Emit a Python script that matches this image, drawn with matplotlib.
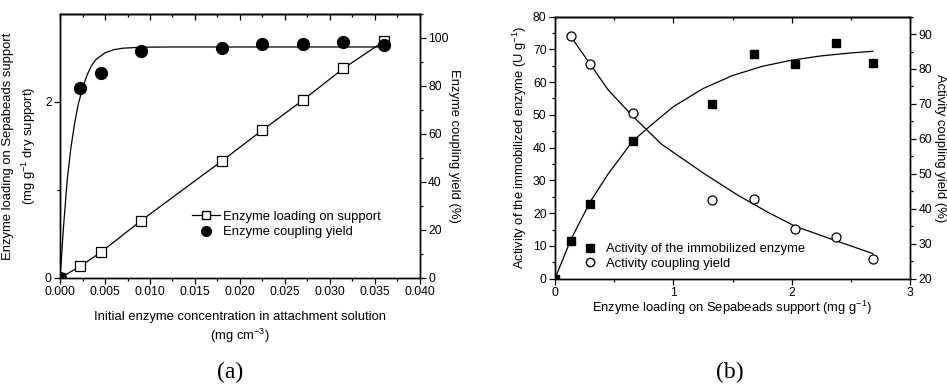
import matplotlib
matplotlib.use("Agg")
import matplotlib.pyplot as plt
from matplotlib.lines import Line2D

plt.rcParams['font.family'] = ['Liberation Sans', 'DejaVu Sans']
plt.rcParams['mathtext.default'] = 'regular'

# (a) 初始酶浓度 vs 载酶量 / 偶联产率
conc = [0, 0.00225, 0.0045, 0.009, 0.018, 0.0225, 0.027, 0.0315, 0.036]
loading = [0, 0.133, 0.29, 0.65, 1.33, 1.68, 2.02, 2.38, 2.69]
coupling = [0, 79.3, 85.5, 94.7, 95.8, 97.4, 97.6, 98.2, 97.0]

# (a) 拟合曲线
fit_conc = [0, 0.0004, 0.0008, 0.0012, 0.0016, 0.002, 0.0025, 0.003, 0.0035,
            0.004, 0.005, 0.006, 0.007, 0.009, 0.012, 0.036]
fit_coupling = [0, 22, 41, 54, 64, 72, 79, 84.5, 88.5,
                91, 93.8, 95.1, 95.7, 96.1, 96.2, 96.2]

# (b) 载酶量 vs 固定化酶活力 / 活力偶联产率
load_b = [0, 0.135, 0.296, 0.657, 1.33, 1.68, 2.03, 2.375, 2.685]
activity = [0, 11.5, 22.8, 42.0, 53.4, 68.6, 65.6, 72.0, 65.9]
load_y = [0.135, 0.296, 0.657, 1.33, 1.68, 2.03, 2.375, 2.685]
act_yield = [89.3, 81.3, 67.4, 42.4, 42.8, 34.1, 31.8, 25.7]

# (b) 拟合曲线
fit_load_a = [0, 0.135, 0.3, 0.45, 0.657, 0.8, 1.0, 1.25, 1.5, 1.75, 2.0,
              2.25, 2.5, 2.685]
fit_activity = [0, 12.0, 23.6, 32.0, 42.0, 46.5, 52.5, 58.0, 62.0, 64.8,
                66.7, 68.0, 68.9, 69.4]
fit_load_y = [0.133, 0.3, 0.45, 0.657, 0.9, 1.25, 1.54, 1.8, 2.03, 2.38, 2.685]
fit_yield = [89.3, 81.3, 74.0, 66.5, 58.5, 50.3, 44.0, 39.0, 35.0, 30.8, 27.2]

TICK_FS = 8.8
LABEL_FS = 9.4


def style_axes(ax, twin):
    for a in (ax, twin):
        for s in a.spines.values():
            s.set_linewidth(1.0)
    ax.tick_params(axis='both', which='major', direction='out', length=4,
                   width=0.9, labelsize=TICK_FS, top=False, right=False, pad=2)
    ax.tick_params(axis='both', which='minor', direction='out', length=2.2,
                   width=0.9, top=False, right=False)
    twin.tick_params(axis='y', which='major', direction='out', length=4,
                     width=0.9, labelsize=TICK_FS, pad=2)
    twin.tick_params(axis='y', which='minor', direction='out', length=2.2,
                     width=0.9)


def top_ticks(ax, major, minor):
    sec = ax.secondary_xaxis('top')
    sec.set_xticks(major)
    sec.set_xticks(minor, minor=True)
    sec.tick_params(which='major', direction='in', length=4, width=0.9,
                    labeltop=False)
    sec.tick_params(which='minor', direction='in', length=2.5, width=0.9)
    sec.spines['top'].set_linewidth(1.0)


def plot_a(fig):
    ax = fig.add_axes([0.0634, 0.278, 0.380, 0.686])
    ax2 = ax.twinx()

    ax.plot(conc, loading, '-', color='black', lw=0.9, marker='s', ms=6.5,
            mfc='white', mec='black', mew=0.9, zorder=3)
    ax2.plot(fit_conc, fit_coupling, '-', color='black', lw=0.9)
    ax2.plot(conc, coupling, 'o', color='black', ms=8.5, zorder=4)

    ax.set_xlim(0, 0.040)
    ax.set_ylim(0, 3)
    ax2.set_ylim(0, 110)
    xt = [i * 0.005 for i in range(9)]
    xm = [i * 0.0025 for i in range(17)]
    ax.set_xticks(xt)
    ax.set_xticklabels(['%.3f' % v for v in xt])
    ax.set_xticks(xm, minor=True)
    ax.set_yticks([0, 2])
    ax.set_yticks([1], minor=True)
    ax2.set_yticks(range(0, 101, 20))
    ax2.set_yticks(range(10, 111, 20), minor=True)
    style_axes(ax, ax2)
    top_ticks(ax, xt, xm)

    ax.set_xlabel('Initial enzyme concentration in attachment solution\n'
                  '(mg cm$^{-3}$)', fontsize=LABEL_FS, linespacing=1.3,
                  labelpad=9)
    ax.set_ylabel('Enzyme loading on Sepabeads support\n'
                  '(mg g$^{-1}$ dry support)', fontsize=LABEL_FS,
                  linespacing=1.45, labelpad=5)
    ax2.set_ylabel('Enzyme coupling yield (%)', fontsize=LABEL_FS,
                   rotation=270, labelpad=8)

    handles = [Line2D([], [], color='black', lw=0.9, marker='s', ms=6,
                      mfc='white', mec='black'),
               Line2D([], [], ls='none', color='black', marker='o', ms=7)]
    ax.legend(handles, ['Enzyme loading on support', 'Enzyme coupling yield'],
              loc='upper left', bbox_to_anchor=(0.367, 0.255), frameon=False,
              fontsize=LABEL_FS, handlelength=2.1, handletextpad=0.3,
              labelspacing=0.25, borderpad=0, borderaxespad=0)


def plot_b(fig):
    ax = fig.add_axes([0.586, 0.276, 0.375, 0.681])
    ax2 = ax.twinx()

    ax.plot(fit_load_a, fit_activity, '-', color='black', lw=0.9)
    ax.plot(load_b, activity, 's', color='black', ms=6, zorder=4)
    ax2.plot(fit_load_y, fit_yield, '-', color='black', lw=0.9)
    ax2.plot(load_y, act_yield, 'o', ms=6.5, mfc='white', mec='black',
             mew=0.9, zorder=4)

    ax.set_xlim(0, 3)
    ax.set_ylim(0, 80)
    ax2.set_ylim(20, 95)
    ax.set_xticks([0, 1, 2, 3])
    ax.set_xticks([0.5, 1.5, 2.5], minor=True)
    ax.set_yticks(range(0, 81, 10))
    ax.set_yticks(range(5, 80, 10), minor=True)
    ax2.set_yticks(range(20, 91, 10))
    ax2.set_yticks(range(25, 96, 10), minor=True)
    style_axes(ax, ax2)
    top_ticks(ax, [0, 1, 2, 3], [0.5, 1.5, 2.5])

    ax.set_xlabel('Enzyme loading on Sepabeads support (mg g$^{-1}$)',
                  fontsize=LABEL_FS, labelpad=0)
    ax.set_ylabel('Activity of the immobilized enzyme (U g$^{-1}$)',
                  fontsize=LABEL_FS, labelpad=3)
    ax2.set_ylabel('Activity coupling yield (%)', fontsize=LABEL_FS,
                   rotation=270, labelpad=10)

    handles = [Line2D([], [], ls='none', color='black', marker='s', ms=6),
               Line2D([], [], ls='none', marker='o', ms=6, mfc='white',
                      mec='black')]
    ax.legend(handles, ['Activity of the immobilized enzyme',
                        'Activity coupling yield'],
              loc='upper left', bbox_to_anchor=(0.079, 0.135), frameon=False,
              fontsize=LABEL_FS, handlelength=1.0, handletextpad=0.8,
              labelspacing=0.15, borderpad=0, borderaxespad=0)


def main():
    fig = plt.figure(figsize=(9.47, 3.85), dpi=100)
    plot_a(fig)
    plot_b(fig)
    fig.text(230 / 947, 1 - 372 / 385, '(a)', family='Liberation Serif',
             fontsize=17, ha='center', va='center')
    fig.text(730 / 947, 1 - 372 / 385, '(b)', family='Liberation Serif',
             fontsize=17, ha='center', va='center')
    fig.savefig('out.png', dpi=100)


if __name__ == "__main__":
    main()
